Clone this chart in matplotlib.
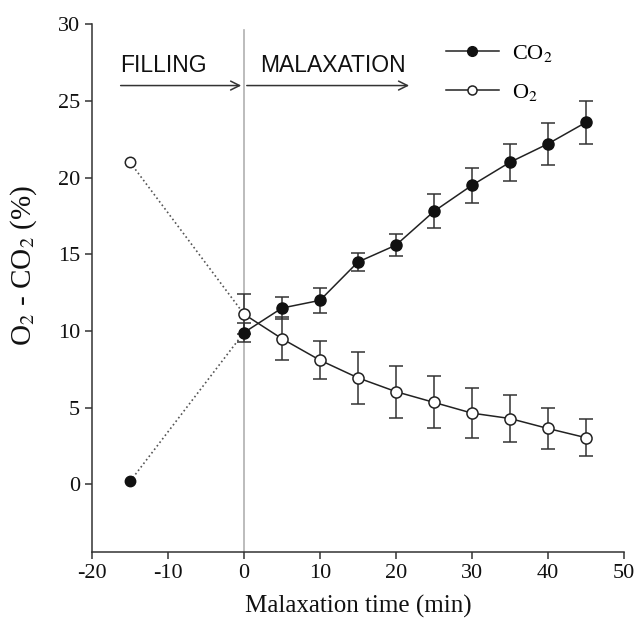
import matplotlib
matplotlib.use('Agg')
import matplotlib.pyplot as plt
from matplotlib.lines import Line2D

plt.rcParams['font.family'] = 'Liberation Serif'
plt.rcParams['mathtext.fontset'] = 'stix'
plt.rcParams['axes.unicode_minus'] = False

# filling phase (dotted), then malaxation with error bars
fill_x = [-15, 0]
co2_fill = [0.2, 9.9]
o2_fill = [21.0, 11.1]

time = [0, 5, 10, 15, 20, 25, 30, 35, 40, 45]
co2 = [9.9, 11.5, 12.0, 14.5, 15.6, 17.8, 19.5, 21.0, 22.2, 23.6]
co2_err = [0.6, 0.7, 0.8, 0.6, 0.7, 1.1, 1.15, 1.2, 1.35, 1.4]
o2 = [11.1, 9.5, 8.1, 6.95, 6.05, 5.35, 4.65, 4.3, 3.65, 3.05]
o2_err = [1.3, 1.4, 1.25, 1.7, 1.7, 1.7, 1.65, 1.55, 1.35, 1.2]

fig = plt.figure(figsize=(6.36, 6.2), dpi=100)
ax = fig.add_axes([0.1447, 0.1097, 0.8363, 0.8513])

# vertical separator at t = 0
ax.plot([0, 0], [-4.4, 29.6], color='#b0b0b0', lw=1.2, zorder=1)

# dotted filling lines
ax.plot(fill_x, o2_fill, ls=':', color='#555555', lw=1.2, zorder=2)
ax.plot(fill_x, co2_fill, ls=':', color='#555555', lw=1.2, zorder=2)
ax.plot(fill_x[0], o2_fill[0], 'o', ms=7.5, mfc='white', mec='#222222', mew=1.1, zorder=4)
ax.plot(fill_x[0], co2_fill[0], 'o', ms=7.5, mfc='#111111', mec='#111111', zorder=4)

ax.errorbar(time, o2, yerr=o2_err, fmt='-o', color='#222222', lw=1.1,
            ms=8, mfc='white', mec='#222222', mew=1.1, ecolor='#333333',
            elinewidth=1.1, capsize=4.7, capthick=1.1, zorder=3)
ax.errorbar(time, co2, yerr=co2_err, fmt='-o', color='#222222', lw=1.1,
            ms=8, mfc='#111111', mec='#111111', ecolor='#333333',
            elinewidth=1.1, capsize=4.7, capthick=1.1, zorder=3)

# phase arrows
ax.annotate('', xy=(0, 26.0), xytext=(-16.6, 26.0),
            arrowprops=dict(arrowstyle='->', color='#333333', lw=1.1, mutation_scale=16))
ax.annotate('', xy=(22.1, 26.0), xytext=(0, 26.0),
            arrowprops=dict(arrowstyle='->', color='#333333', lw=1.1, mutation_scale=16))
ax.text(-16.3, 26.9, 'FILLING', family='Liberation Sans', fontsize=16.5, color='#111111')
ax.text(2.1, 26.9, 'MALAXATION', family='Liberation Sans', fontsize=16.5, color='#111111')

handles = [
    Line2D([], [], color='#222222', lw=1.1, marker='o', ms=7, mfc='#111111', mec='#111111'),
    Line2D([], [], color='#222222', lw=1.1, marker='o', ms=6.5, mfc='white', mec='#222222', mew=1.1),
]
ax.legend(handles, ['CO$_2$', 'O$_2$'], loc='upper left', bbox_to_anchor=(0.665, 0.964),
          frameon=False, fontsize=16, handlelength=2.4, handletextpad=0.6,
          labelspacing=0.78, borderaxespad=0, borderpad=0)

ax.set_xlim(-20, 50)
ax.set_ylim(-4.4, 30)
ax.set_xticks(range(-20, 51, 10))
ax.set_yticks(range(0, 31, 5))
ax.spines['top'].set_visible(False)
ax.spines['right'].set_visible(False)
for s in ['left', 'bottom']:
    ax.spines[s].set_color('#333333')
    ax.spines[s].set_linewidth(1.1)
ax.tick_params(direction='out', length=5, width=1.1, colors='#333333', labelsize=16,
               labelcolor='#111111', pad=3.5)
ax.set_xlabel('Malaxation time (min)', fontsize=18, color='#111111')
ax.set_ylabel('O$_2$ - CO$_2$ (%)', fontsize=21, color='#111111')
ax.xaxis.set_label_coords(0.5, -0.082)
ax.yaxis.set_label_coords(-0.10, 0.544)

fig.savefig('out.png', dpi=100)
